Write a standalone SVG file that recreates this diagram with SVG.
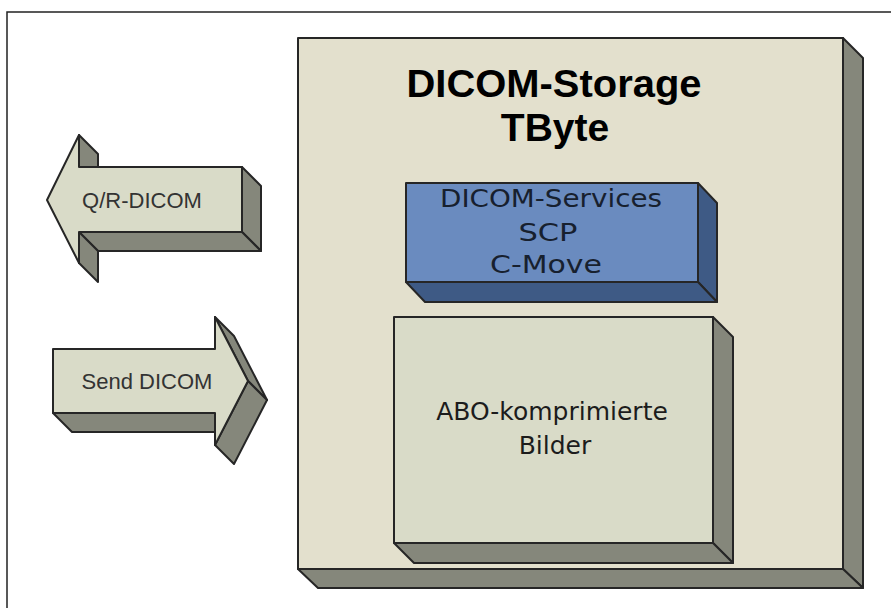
<svg xmlns="http://www.w3.org/2000/svg" width="891" height="608" viewBox="0 0 891 608">
<style>
.ol{stroke:#262626;stroke-width:2;stroke-linejoin:round}
.beige{fill:#e3e0cd}
.light{fill:#d9dbc8}
.dark{fill:#85877b}
.blue{fill:#6a8bbf}
.bdark{fill:#3e5a85}
.title{font-family:"Liberation Sans",Arial,sans-serif;font-weight:bold;font-size:39px;fill:#000;text-anchor:middle}
.arr{font-family:"Liberation Sans",Arial,sans-serif;font-size:22px;fill:#333;text-anchor:middle}
.box{font-family:"DejaVu Sans",Verdana,sans-serif;font-size:25px;fill:#1c1c1c;text-anchor:middle}
.btxt{font-family:"DejaVu Sans",Verdana,sans-serif;font-size:25px;fill:#17202e;text-anchor:middle}
</style>
<rect x="7" y="12" width="900" height="620" fill="#fff" stroke="#222" stroke-width="1.5"/>

<g id="storage">
<polygon class="dark ol" points="843,38 863,58 863,588 843,569"/>
<polygon class="dark ol" points="298,569 843,569 863,588 318,588"/>
<rect class="beige ol" x="298" y="38" width="545" height="531"/>
<text class="title" x="554" y="97" textLength="295" lengthAdjust="spacingAndGlyphs">DICOM-Storage</text>
<text class="title" x="555" y="141">TByte</text>
</g>

<g id="services">
<polygon class="bdark ol" points="698,183 717,203 717,302 698,282"/>
<polygon class="bdark ol" points="406,282 698,282 717,302 425,302"/>
<rect class="blue ol" x="406" y="183" width="292" height="99"/>
<text class="btxt" x="551" y="207" textLength="222" lengthAdjust="spacingAndGlyphs">DICOM-Services</text>
<text class="btxt" x="548" y="241" textLength="59" lengthAdjust="spacingAndGlyphs">SCP</text>
<text class="btxt" x="546" y="273" textLength="112" lengthAdjust="spacingAndGlyphs">C-Move</text>
</g>

<g id="images">
<polygon class="dark ol" points="713,317 733,337 733,563 713,543"/>
<polygon class="dark ol" points="394,543 713,543 733,563 414,563"/>
<rect class="light ol" x="394" y="317" width="319" height="226"/>
<text class="box" x="552" y="420">ABO-komprimierte</text>
<text class="box" x="555" y="454">Bilder</text>
</g>

<g id="connectors">
<g id="qr-dicom">
<polygon class="dark ol" points="79,135 98,154 98,167 79,167"/>
<polygon class="dark ol" points="242,167 261,186 261,251 242,232"/>
<polygon class="dark ol" points="79,232 242,232 261,251 98,251"/>
<polygon class="dark ol" points="79,232 98,251 98,282 79,263"/>
<polygon class="light ol" points="47,200 79,135 79,167 242,167 242,232 79,232 79,263"/>
<text class="arr" x="142" y="208">Q/R-DICOM</text>
</g>
<g id="send-dicom">
<polygon class="dark ol" points="53,413 215,413 234,432 72,432"/>
<polygon class="dark ol" points="215,317 234,336 267,400 248,381"/>
<polygon class="dark ol" points="248,381 267,400 234,464 215,445"/>
<polygon class="light ol" points="53,349 215,349 215,317 248,381 215,445 215,413 53,413"/>
<text class="arr" x="147" y="389">Send DICOM</text>
</g>
</g>
</svg>
